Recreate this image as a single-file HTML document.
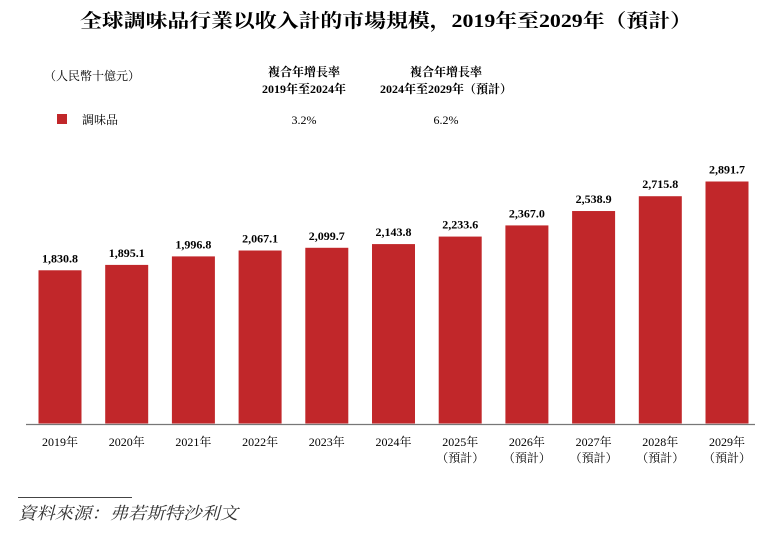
<!DOCTYPE html>
<html><head><meta charset="utf-8"><style>
body{margin:0;background:#fff;width:782px;height:533px;overflow:hidden;font-family:"Liberation Serif","Noto Serif CJK SC","Noto Sans CJK TC",serif;color:#111}
</style></head><body>
<svg width="782" height="533" xmlns="http://www.w3.org/2000/svg" font-family="Liberation Serif, Noto Serif CJK SC, Noto Sans CJK TC, serif">
<text x="80" y="27" font-size="19" font-weight="bold" textLength="612" lengthAdjust="spacingAndGlyphs">全球調味品行業以收入計的市場規模，2019年至2029年（預計）</text>
<text x="44" y="80" font-size="12">（人民幣十億元）</text>
<text x="304" y="76" text-anchor="middle" font-size="12" font-weight="bold">複合年增長率</text>
<text x="304" y="93" text-anchor="middle" font-size="12" font-weight="bold">2019年至2024年</text>
<text x="446" y="76" text-anchor="middle" font-size="12" font-weight="bold">複合年增長率</text>
<text x="446" y="93" text-anchor="middle" font-size="12" font-weight="bold">2024年至2029年（預計）</text>
<rect x="57" y="114" width="10" height="10" fill="#c1272a"/>
<text x="82" y="124" font-size="12">調味品</text>
<text x="304" y="124" text-anchor="middle" font-size="12">3.2%</text>
<text x="446" y="124" text-anchor="middle" font-size="12">6.2%</text>
<g id="bars"></g>
<line x1="26" y1="424.5" x2="755" y2="424.5" stroke="#777" stroke-width="1.2"/>
<line x1="18" y1="497.5" x2="132" y2="497.5" stroke="#444" stroke-width="1"/>
<text x="18" y="519" font-size="17" font-style="italic" fill="#333" textLength="220" lengthAdjust="spacingAndGlyphs">資料來源：弗若斯特沙利文</text>
</svg>
<script>
const categories=["2019年","2020年","2021年","2022年","2023年","2024年","2025年","2026年","2027年","2028年","2029年"];
const values=[1830.8,1895.1,1996.8,2067.1,2099.7,2143.8,2233.6,2367.0,2538.9,2715.8,2891.7];
const valueLabels=["1,830.8","1,895.1","1,996.8","2,067.1","2,099.7","2,143.8","2,233.6","2,367.0","2,538.9","2,715.8","2,891.7"];
const forecast=[false,false,false,false,false,false,true,true,true,true,true];
const NS="http://www.w3.org/2000/svg";
const base=423.5, k=242/2891.7;
const xC=i=>60+i*66.7, yS=v=>base-v*k;
const g=document.getElementById('bars');
categories.forEach((c,i)=>{
  const r=document.createElementNS(NS,'rect');
  r.setAttribute('x',xC(i)-21.5);r.setAttribute('width',43);
  r.setAttribute('y',yS(values[i]));r.setAttribute('height',base-yS(values[i]));
  r.setAttribute('fill','#c1272a');
  
  
  g.appendChild(r);
  const t=document.createElementNS(NS,'text');
  t.setAttribute('x',xC(i));t.setAttribute('y',yS(values[i])-8);
  t.setAttribute('text-anchor','middle');t.setAttribute('font-size','12');t.setAttribute('font-weight','bold');
  t.textContent=valueLabels[i];
  
  
  g.appendChild(t);
  const l=document.createElementNS(NS,'text');
  l.setAttribute('x',xC(i));l.setAttribute('y',446);
  l.setAttribute('text-anchor','middle');l.setAttribute('font-size','12');
  l.textContent=c;
  
  
  g.appendChild(l);
  if(forecast[i]){
    const f=document.createElementNS(NS,'text');
    f.setAttribute('x',xC(i));f.setAttribute('y',462);
    f.setAttribute('text-anchor','middle');f.setAttribute('font-size','12');
    f.textContent='（預計）';
    
    
    g.appendChild(f);
  }
});
</script>
</body></html>
